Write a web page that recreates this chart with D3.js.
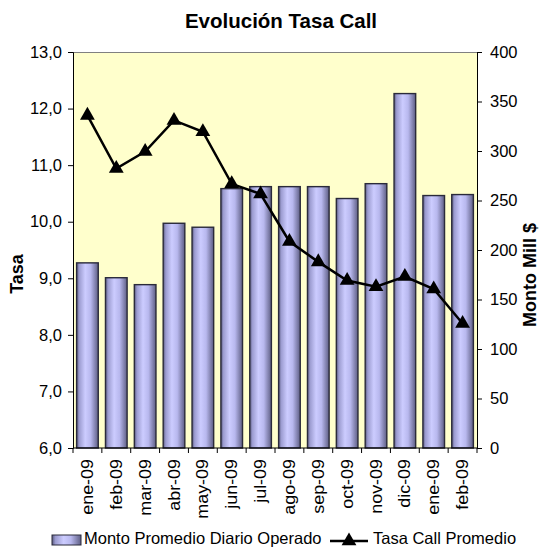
<!DOCTYPE html>
<html>
<head>
<meta charset="utf-8">
<script src="https://cdn.jsdelivr.net/npm/d3@7"></script>
<style>
  body { margin: 0; background: #fff; }
  text { font-family: Arial, "Liberation Sans", sans-serif; fill: #000; }
</style>
</head>
<body>
<div id="chart"></div>
<script>
// Categories, months Jan-09 .. Feb-10
var months = ["ene-09", "feb-09", "mar-09", "abr-09", "may-09", "jun-09", "jul-09",
              "ago-09", "sep-09", "oct-09", "nov-09", "dic-09", "ene-09", "feb-09"];
// Monto Promedio Diario Operado (Mill $), right axis
var monto = [187, 172, 165, 227, 223, 262, 264, 264, 264, 252, 267, 358, 255, 256];
// Tasa Call Promedio, left axis
var tasa = [11.88, 10.94, 11.24, 11.79, 11.59, 10.67, 10.49, 9.65, 9.29, 8.96, 8.85, 9.03, 8.81, 8.20];

var tasa_ticks = [6, 7, 8, 9, 10, 11, 12, 13];
var monto_ticks = [0, 50, 100, 150, 200, 250, 300, 350, 400];

var W = 542, H = 549;
var plot = { left: 73, right: 477, top: 52, bottom: 448 };

var svg = d3.select("#chart").append("svg")
    .attr("width", W)
    .attr("height", H);

// bar gradient, dark edges light middle
var defs = svg.append("defs");
var grad = defs.append("linearGradient")
    .attr("id", "barGrad")
    .attr("x1", "0").attr("x2", "1").attr("y1", "0").attr("y2", "0");
grad.append("stop").attr("offset", "0%").attr("stop-color", "#5a5a80");
grad.append("stop").attr("offset", "12%").attr("stop-color", "#9c9cd0");
grad.append("stop").attr("offset", "40%").attr("stop-color", "#ccccff");
grad.append("stop").attr("offset", "65%").attr("stop-color", "#b8b8ee");
grad.append("stop").attr("offset", "100%").attr("stop-color", "#5e5e84");

// index-based band so repeated month names stay separate
var x = d3.scaleBand()
    .domain(d3.range(months.length))
    .range([plot.left, plot.right])
    .paddingInner(0.25)
    .paddingOuter(0.125);

var yL = d3.scaleLinear().domain([6, 13]).range([plot.bottom, plot.top]);
var yR = d3.scaleLinear().domain([0, 400]).range([plot.bottom, plot.top]);

// plot background
svg.append("rect")
    .attr("x", plot.left)
    .attr("y", plot.top)
    .attr("width", plot.right - plot.left)
    .attr("height", plot.bottom - plot.top)
    .attr("fill", "#ffffcc");

svg.append("line")
    .attr("x1", plot.left).attr("x2", plot.right)
    .attr("y1", plot.top + 0.5).attr("y2", plot.top + 0.5)
    .attr("stroke", "#808080");

// bars
svg.append("g").selectAll("rect")
    .data(monto)
    .join("rect")
        .attr("x", function(d, i) { return x(i); })
        .attr("y", function(d) { return yR(d); })
        .attr("width", x.bandwidth())
        .attr("height", function(d) { return yR(0) - yR(d); })
        .attr("fill", "url(#barGrad)")
        .attr("stroke", "#2a2a3a")
        .attr("stroke-width", 1.4);

// left axis
var axisL = d3.axisLeft(yL)
    .tickValues(tasa_ticks)
    .tickSize(5)
    .tickPadding(6)
    .tickFormat(function(d) { return d3.format(".1f")(d).replace(".", ","); });
var gL = svg.append("g")
    .attr("transform", "translate(" + plot.left + ",0)")
    .call(axisL);

// right axis
var axisR = d3.axisRight(yR)
    .tickValues(monto_ticks)
    .tickSize(5)
    .tickPadding(8)
    .tickFormat(d3.format("d"));
var gR = svg.append("g")
    .attr("transform", "translate(" + plot.right + ",0)")
    .call(axisR);

// bottom axis ticks at band edges
var gB = svg.append("g");
gB.append("line")
    .attr("x1", plot.left).attr("x2", plot.right)
    .attr("y1", plot.bottom).attr("y2", plot.bottom)
    .attr("stroke", "#000");
gB.selectAll("line.tk")
    .data(d3.range(months.length + 1))
    .join("line")
        .attr("class", "tk")
        .attr("x1", function(i) { return x.step() * i + plot.left; })
        .attr("x2", function(i) { return x.step() * i + plot.left; })
        .attr("y1", plot.bottom)
        .attr("y2", plot.bottom + 5)
        .attr("stroke", "#000");
gB.selectAll("text")
    .data(months)
    .join("text")
        .attr("transform", function(d, i) {
            return "translate(" + (x(i) + x.bandwidth() / 2 + 5.5) + "," + (plot.bottom + 11) + ") rotate(-90) scale(1.12,1)";
        })
        .attr("text-anchor", "end")
        .style("font-size", "16px")
        .text(function(d) { return d; });

[gL, gR].forEach(function(g) {
    g.select(".domain").attr("stroke", "#000");
    g.selectAll(".tick line").attr("stroke", "#000");
    g.selectAll(".tick text").style("font-size", "16.5px").attr("fill", "#000");
});

// line series
var line = d3.line()
    .x(function(d, i) { return x(i) + x.bandwidth() / 2; })
    .y(function(d) { return yL(d); });

svg.append("path")
    .datum(tasa)
    .attr("d", line)
    .attr("fill", "none")
    .attr("stroke", "#000")
    .attr("stroke-width", 2.5);

var tri = d3.symbol().type(d3.symbolTriangle).size(95);
svg.append("g").selectAll("path")
    .data(tasa)
    .join("path")
        .attr("d", tri)
        .attr("transform", function(d, i) {
            return "translate(" + (x(i) + x.bandwidth() / 2) + "," + yL(d) + ")";
        })
        .attr("fill", "#000");

// titles
svg.append("text")
    .attr("x", 281)
    .attr("y", 28)
    .attr("text-anchor", "middle")
    .style("font-size", "20.5px")
    .style("font-weight", "bold")
    .text("Evolución Tasa Call");

svg.append("text")
    .attr("transform", "translate(23,274) rotate(-90)")
    .attr("text-anchor", "middle")
    .style("font-size", "18px")
    .style("font-weight", "bold")
    .text("Tasa");

svg.append("text")
    .attr("transform", "translate(536,275) rotate(-90)")
    .attr("text-anchor", "middle")
    .style("font-size", "18px")
    .style("font-weight", "bold")
    .text("Monto Mill $");

// legend
var leg = svg.append("g");
leg.append("rect")
    .attr("x", 52).attr("y", 535)
    .attr("width", 29).attr("height", 10)
    .attr("fill", "url(#barGrad)")
    .attr("stroke", "#2a2a3a");
leg.append("text")
    .attr("x", 84).attr("y", 544)
    .style("font-size", "16.5px")
    .text("Monto Promedio Diario Operado");
leg.append("line")
    .attr("x1", 330).attr("x2", 368)
    .attr("y1", 541).attr("y2", 541)
    .attr("stroke", "#000").attr("stroke-width", 2.5);
leg.append("path")
    .attr("d", tri)
    .attr("transform", "translate(349,541)")
    .attr("fill", "#000");
leg.append("text")
    .attr("x", 373).attr("y", 544)
    .style("font-size", "16.5px")
    .text("Tasa Call Promedio");
</script>
</body>
</html>
